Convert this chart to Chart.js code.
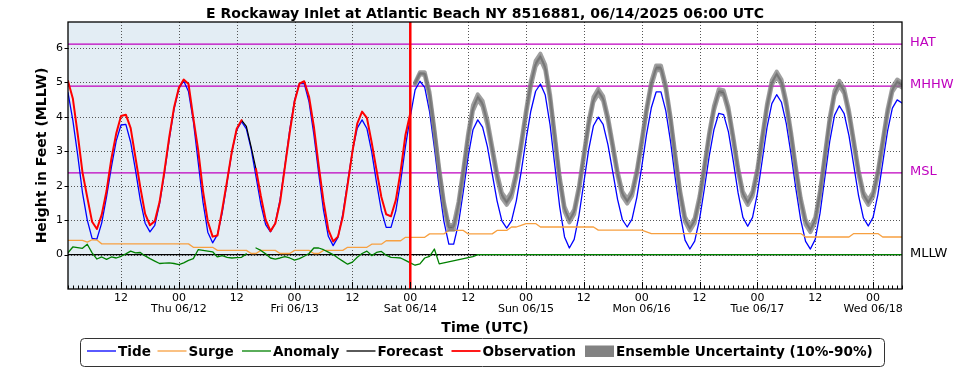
<!DOCTYPE html>
<html>
<head>
<meta charset="utf-8">
<title>E Rockaway Inlet water levels</title>
<script src="https://cdn.jsdelivr.net/npm/chart.js@4.4.1/dist/chart.umd.min.js"></script>
<style>
  html, body { margin: 0; padding: 0; background: #fff; }
  #wrap { width: 969px; height: 370px; }
</style>
</head>
<body>
<div id="wrap"><canvas id="chart" width="969" height="370"></canvas></div>
<script>
// hours are counted from Sat 06/14 00:00 UTC (the red line)
const xMin = -71;
const xMax = 102;
const nowHour = 0;
const xTickHours = [-60, -48, -36, -24, -12, 0, 12, 24, 36, 48, 60, 72, 84, 96];
const midnightHours = [-48, -24, 0, 24, 48, 72, 96];
const dayNames = ['Thu 06/12', 'Fri 06/13', 'Sat 06/14', 'Sun 06/15', 'Mon 06/16', 'Tue 06/17', 'Wed 06/18'];
const yTicks = [0, 1, 2, 3, 4, 5, 6];

const datumNames = ['HAT', 'MHHW', 'MSL', 'MLLW'];
const datumValues = [6.11, 4.89, 2.37, 0];
const datumColors = ['#bf00bf', '#bf00bf', '#bf00bf', '#000000'];

// hourly, -71 .. 102
const tideStart = -71;
const tide = [
  4.70, 3.90, 2.90, 1.80, 1.00, 0.47, 0.45, 0.92, 1.68, 2.54, 3.30, 3.76, 3.78, 3.26, 2.45, 1.58,
  0.91, 0.66, 0.85, 1.48, 2.36, 3.34, 4.22, 4.82, 5.04, 4.73, 3.87, 2.69, 1.52, 0.65, 0.34, 0.58,
  1.22, 2.10, 2.98, 3.62, 3.86, 3.65, 3.06, 2.26, 1.46, 0.87, 0.66, 0.91, 1.60, 2.58, 3.62, 4.48,
  4.96, 4.96, 4.43, 3.49, 2.36, 1.29, 0.53, 0.26, 0.50, 1.17, 2.09, 3.00, 3.67, 3.91, 3.66, 2.98,
  2.09, 1.28, 0.79, 0.79, 1.27, 2.12, 3.14, 4.00, 4.78, 5.03, 4.85, 4.15, 3.10, 1.95, 0.95, 0.30,
  0.30, 0.90, 1.83, 2.84, 3.62, 3.91, 3.70, 3.13, 2.34, 1.56, 0.98, 0.77, 0.98, 1.56, 2.40, 3.32,
  4.16, 4.74, 4.95, 4.63, 3.76, 2.57, 1.38, 0.51, 0.19, 0.44, 1.14, 2.09, 3.04, 3.74, 3.99, 3.78,
  3.19, 2.40, 1.60, 1.01, 0.80, 1.03, 1.66, 2.54, 3.48, 4.26, 4.72, 4.72, 4.18, 3.27, 2.18, 1.15,
  0.42, 0.16, 0.39, 1.02, 1.91, 2.85, 3.63, 4.10, 4.06, 3.56, 2.71, 1.79, 1.08, 0.82, 1.08, 1.77,
  2.73, 3.69, 4.38, 4.64, 4.42, 3.80, 2.90, 1.90, 1.00, 0.38, 0.16, 0.44, 1.20, 2.24, 3.28, 4.04,
  4.32, 4.09, 3.45, 2.58, 1.70, 1.06, 0.83, 1.08, 1.74, 2.66, 3.58, 4.25, 4.49, 4.40
];

// hourly, -71 .. 102
const surgeStart = -71;
const surge = [
  0.41, 0.41, 0.41, 0.41, 0.36, 0.43, 0.42,
  0.31, 0.31, 0.31, 0.31, 0.31, 0.31, 0.31, 0.31, 0.31, 0.31, 0.31, 0.31, 0.31, 0.31, 0.31, 0.31, 0.31, 0.31, 0.31,
  0.21, 0.21, 0.21, 0.21, 0.21,
  0.12, 0.12, 0.12, 0.12, 0.12, 0.12, 0.12,
  0.03, 0.03, 0.12, 0.12, 0.12, 0.12, 0.03, 0.03, 0.03, 0.12, 0.12, 0.12, 0.12, 0.03, 0.03,
  0.12, 0.12, 0.12, 0.12, 0.12, 0.21, 0.21, 0.21, 0.21, 0.21, 0.30, 0.30, 0.30,
  0.40, 0.40, 0.40, 0.40, 0.50, 0.50, 0.50, 0.50, 0.50, 0.60, 0.60, 0.60, 0.60,
  0.70, 0.70, 0.70, 0.70, 0.60, 0.60, 0.60, 0.60, 0.60, 0.60, 0.70, 0.70, 0.70,
  0.80, 0.80, 0.85, 0.90, 0.90, 0.90,
  0.80, 0.80, 0.80, 0.80, 0.80, 0.80, 0.80, 0.80, 0.80, 0.80, 0.80, 0.80,
  0.71, 0.71, 0.71, 0.71, 0.71, 0.71, 0.71, 0.71, 0.71, 0.71, 0.66,
  0.61, 0.61, 0.61, 0.61, 0.61, 0.61, 0.61, 0.61, 0.61, 0.61, 0.61, 0.61, 0.61, 0.61, 0.61, 0.61,
  0.61, 0.61, 0.61, 0.61, 0.61, 0.61, 0.61, 0.61, 0.61, 0.61, 0.61, 0.61, 0.61, 0.61, 0.61, 0.61,
  0.51, 0.51, 0.51, 0.51, 0.51, 0.51, 0.51, 0.51, 0.51, 0.51,
  0.61, 0.61, 0.61, 0.61, 0.61, 0.61, 0.51, 0.51, 0.51, 0.51, 0.51
];

// hourly, -71 .. 6 (null = missing), then resumes at 13
const anomalyStart = -71;
const anomaly = [
  0.05, 0.22, 0.20, 0.18, 0.30, 0.05, -0.13, -0.07, -0.14, -0.07, -0.10, -0.05, 0.02, 0.10, 0.05, 0.06,
  -0.04, -0.12, -0.19, -0.26, -0.25, -0.24, -0.26, -0.29, -0.24, -0.17, -0.12, 0.14, 0.12, 0.10, 0.08, -0.07,
  -0.03, -0.08, -0.10, -0.09, -0.08, 0.02, null, 0.19, 0.12, 0.02, -0.10, -0.13, -0.10, -0.06, -0.10, -0.16,
  -0.12, -0.05, 0.03, 0.19, 0.19, 0.14, 0.07, 0.00, -0.10, -0.19, -0.28, -0.22, -0.08, 0.03, 0.10, -0.03,
  0.06, 0.09, -0.02, -0.08, -0.09, -0.10, -0.17, -0.24, -0.31, -0.27, -0.10, -0.05, 0.16, -0.27
];
const anomalyLateStart = 13;
const anomalyLate = [
  -0.06, 0, 0, 0, 0, 0, 0, 0, 0, 0, 0, 0, 0, 0, 0, 0, 0, 0, 0, 0, 0, 0, 0, 0, 0, 0, 0, 0, 0, 0,
  0, 0, 0, 0, 0, 0, 0, 0, 0, 0, 0, 0, 0, 0, 0, 0, 0, 0, 0, 0, 0, 0, 0, 0, 0, 0, 0, 0, 0, 0,
  0, 0, 0, 0, 0, 0, 0, 0, 0, 0, 0, 0, 0, 0, 0, 0, 0, 0, 0, 0, 0, 0, 0, 0, 0, 0, 0, 0, 0, 0
];

// hourly, -71 .. 0
const obsStart = -71;
const observation = [
  5.04, 4.53, 3.51, 2.39, 1.66, 0.95, 0.74, 1.16, 1.85, 2.78, 3.51, 4.02, 4.06, 3.67, 2.81, 1.95,
  1.18, 0.85, 0.97, 1.53, 2.42, 3.41, 4.27, 4.84, 5.08, 4.95, 3.96, 3.04, 1.85, 0.96, 0.52, 0.55,
  1.31, 2.14, 3.00, 3.65, 3.90, null, null, 2.48, 1.70, 1.01, 0.68, 0.90, 1.53, 2.55, 3.55, 4.44,
  4.96, 5.03, 4.58, 3.71, 2.58, 1.55, 0.72, 0.38, 0.52, 1.10, 2.02, 2.99, 3.80, 4.15, 3.97, 3.25,
  2.45, 1.67, 1.17, 1.11, 1.58, 2.42, 3.47, 4.10
];

// forecast seen through the gap in the observations
const hindcastStart = -35;
const hindcast = [3.90, 3.72, 3.12, 2.48];

// hourly, 1 .. 102
const forecastStart = 1;
const forecast = [
  4.97, 5.26, 5.25, 4.65, 3.60, 2.45, 1.45, 0.78, 0.80, 1.45, 2.41, 3.44, 4.25, 4.57, 4.38, 3.83,
  3.06, 2.29, 1.72, 1.52, 1.74, 2.33, 3.18, 4.11, 4.96, 5.54, 5.75, 5.43, 4.57, 3.38, 2.19, 1.32,
  1.00, 1.24, 1.93, 2.87, 3.81, 4.50, 4.74, 4.53, 3.94, 3.15, 2.35, 1.76, 1.55, 1.77, 2.39, 3.26,
  4.19, 4.96, 5.42, 5.42, 4.86, 3.93, 2.82, 1.77, 1.02, 0.76, 0.99, 1.63, 2.52, 3.47, 4.25, 4.73,
  4.70, 4.21, 3.37, 2.46, 1.76, 1.51, 1.76, 2.43, 3.37, 4.31, 4.99, 5.24, 5.01, 4.38, 3.48, 2.47,
  1.57, 0.94, 0.72, 1.01, 1.79, 2.85, 3.91, 4.68, 4.97, 4.75, 4.12, 3.26, 2.38, 1.74, 1.51, 1.74,
  2.37, 3.26, 4.15, 4.79, 5.01, 4.92
];
const ens90 = [
  4.99, 5.29, 5.29, 4.71, 3.66, 2.51, 1.51, 0.84, 0.88, 1.53, 2.49, 3.52, 4.33, 4.65, 4.46, 3.91,
  3.14, 2.37, 1.80, 1.60, 1.82, 2.41, 3.26, 4.19, 5.04, 5.62, 5.83, 5.51, 4.65, 3.46, 2.26, 1.39,
  1.07, 1.31, 2.00, 2.94, 3.88, 4.57, 4.81, 4.60, 4.01, 3.22, 2.42, 1.83, 1.62, 1.84, 2.46, 3.33,
  4.26, 5.03, 5.49, 5.49, 4.93, 4.00, 2.89, 1.84, 1.09, 0.83, 1.06, 1.70, 2.59, 3.54, 4.32, 4.80,
  4.77, 4.28, 3.44, 2.53, 1.83, 1.58, 1.83, 2.50, 3.44, 4.38, 5.06, 5.31, 5.08, 4.45, 3.55, 2.54,
  1.64, 1.01, 0.79, 1.08, 1.86, 2.92, 3.98, 4.75, 5.04, 4.82, 4.19, 3.33, 2.45, 1.81, 1.58, 1.81,
  2.44, 3.33, 4.22, 4.86, 5.08, 4.99
];
const ens10 = [
  4.95, 5.23, 5.21, 4.59, 3.54, 2.39, 1.39, 0.72, 0.72, 1.37, 2.33, 3.36, 4.17, 4.49, 4.30, 3.75,
  2.98, 2.21, 1.64, 1.44, 1.66, 2.25, 3.10, 4.03, 4.88, 5.46, 5.67, 5.35, 4.49, 3.30, 2.12, 1.25,
  0.93, 1.17, 1.86, 2.80, 3.74, 4.43, 4.67, 4.46, 3.87, 3.08, 2.28, 1.69, 1.48, 1.70, 2.32, 3.19,
  4.12, 4.89, 5.35, 5.35, 4.79, 3.86, 2.75, 1.70, 0.95, 0.69, 0.92, 1.56, 2.45, 3.40, 4.18, 4.66,
  4.63, 4.14, 3.30, 2.39, 1.69, 1.44, 1.69, 2.36, 3.30, 4.24, 4.92, 5.17, 4.94, 4.31, 3.41, 2.40,
  1.50, 0.87, 0.65, 0.94, 1.72, 2.78, 3.84, 4.61, 4.90, 4.68, 4.05, 3.19, 2.31, 1.67, 1.44, 1.67,
  2.30, 3.19, 4.08, 4.72, 4.94, 4.85
];

const legendNames = ['Tide', 'Surge', 'Anomaly', 'Forecast', 'Observation', 'Ensemble Uncertainty (10%-90%)'];

const COLORS = {
  tide: '#0000ff',
  surge: '#f7a040',
  anomaly: '#008000',
  forecast: '#000000',
  obs: '#ff0000',
  band: 'rgba(122,122,122,0.72)',
  swatch: '#828282',
  past: '#e3edf4'
};
const FONT = '"DejaVu Sans", "Liberation Sans", sans-serif';

const toPoints = (start, values) => values.map((v, i) => ({ x: start + i, y: v }));

const overlay = {
  id: 'overlay',
  beforeDraw(chart) {
    const { ctx, chartArea: a, scales: { x } } = chart;
    ctx.save();
    ctx.fillStyle = '#fff';
    ctx.fillRect(0, 0, chart.width, chart.height);
    ctx.fillStyle = COLORS.past;
    ctx.fillRect(a.left, a.top, x.getPixelForValue(nowHour) - a.left, a.bottom - a.top);
    ctx.restore();
  },
  beforeDatasetsDraw(chart) {
    const { ctx, chartArea: a, scales: { x, y } } = chart;
    ctx.save();
    // dotted grid
    ctx.strokeStyle = '#555';
    ctx.lineWidth = 1;
    ctx.setLineDash([1, 2]);
    xTickHours.forEach((h) => {
      const px = Math.round(x.getPixelForValue(h)) + 0.5;
      ctx.beginPath();
      ctx.moveTo(px, a.top);
      ctx.lineTo(px, a.bottom);
      ctx.stroke();
    });
    yTicks.forEach((v) => {
      const py = Math.round(y.getPixelForValue(v)) + 0.5;
      ctx.beginPath();
      ctx.moveTo(a.left, py);
      ctx.lineTo(a.right, py);
      ctx.stroke();
    });
    ctx.setLineDash([]);
    // datum lines
    ctx.lineWidth = 1.3;
    datumValues.forEach((v, i) => {
      const py = y.getPixelForValue(v);
      ctx.strokeStyle = datumColors[i];
      ctx.beginPath();
      ctx.moveTo(a.left, py);
      ctx.lineTo(a.right, py);
      ctx.stroke();
    });
    ctx.restore();
  },
  afterDatasetsDraw(chart) {
    const { ctx, chartArea: a, scales: { x, y } } = chart;
    ctx.save();
    // now line
    const nx = x.getPixelForValue(nowHour);
    ctx.strokeStyle = COLORS.obs;
    ctx.lineWidth = 2.5;
    ctx.beginPath();
    ctx.moveTo(nx, a.top);
    ctx.lineTo(nx, a.bottom);
    ctx.stroke();

    // inward hour ticks on the time axis
    ctx.strokeStyle = '#000';
    ctx.lineWidth = 1;
    for (let h = xMin; h <= xMax; h++) {
      const px = Math.round(x.getPixelForValue(h)) + 0.5;
      const len = xTickHours.includes(h) ? 7 : 3.5;
      ctx.beginPath();
      ctx.moveTo(px, a.bottom);
      ctx.lineTo(px, a.bottom - len);
      ctx.stroke();
    }
    yTicks.forEach((v) => {
      const py = Math.round(y.getPixelForValue(v)) + 0.5;
      ctx.beginPath();
      ctx.moveTo(a.left, py);
      ctx.lineTo(a.left - 3.5, py);
      ctx.stroke();
    });

    // frame
    ctx.lineWidth = 1.3;
    ctx.strokeRect(a.left, a.top, a.right - a.left, a.bottom - a.top);
    ctx.restore();
  },
  afterDraw(chart) {
    const { ctx, chartArea: a, scales: { y } } = chart;
    const cx = (a.left + a.right) / 2;
    ctx.save();
    ctx.fillStyle = '#000';
    ctx.textAlign = 'center';
    ctx.textBaseline = 'alphabetic';
    ctx.font = 'bold 14px ' + FONT;
    ctx.fillText('E Rockaway Inlet at Atlantic Beach NY 8516881, 06/14/2025 06:00 UTC', cx, 18);
    ctx.fillText('Time (UTC)', cx, 332);

    ctx.save();
    ctx.translate(46, (a.top + a.bottom) / 2);
    ctx.rotate(-Math.PI / 2);
    ctx.fillText('Height in Feet (MLLW)', 0, 0);
    ctx.restore();

    // datum labels on the right
    ctx.textAlign = 'left';
    ctx.textBaseline = 'middle';
    ctx.font = '13px ' + FONT;
    datumNames.forEach((name, i) => {
      ctx.fillStyle = datumColors[i];
      ctx.fillText(name, a.right + 8, y.getPixelForValue(datumValues[i]) - 1);
    });

    // legend
    const swatches = [
      { color: COLORS.tide, width: 1.3 },
      { color: COLORS.surge, width: 1.3 },
      { color: COLORS.anomaly, width: 1.3 },
      { color: COLORS.forecast, width: 1.3 },
      { color: COLORS.obs, width: 1.8 },
      { color: COLORS.swatch, box: true }
    ];
    const itemX = [87, 157.5, 242, 346.5, 451.5, 585];
    const ly = 351;
    ctx.font = 'bold 13.6px ' + FONT;
    ctx.textBaseline = 'alphabetic';
    legendNames.forEach((name, i) => {
      const s = swatches[i];
      const lx = itemX[i];
      if (s.box) {
        ctx.fillStyle = s.color;
        ctx.fillRect(lx, ly - 5.5, 29, 11.5);
      } else {
        ctx.strokeStyle = s.color;
        ctx.lineWidth = s.width;
        ctx.beginPath();
        ctx.moveTo(lx, ly);
        ctx.lineTo(lx + 29, ly);
        ctx.stroke();
      }
      ctx.fillStyle = '#000';
      ctx.fillText(name, lx + 31, ly + 5);
    });
    ctx.strokeStyle = '#333';
    ctx.lineWidth = 1;
    ctx.beginPath();
    ctx.roundRect(80.5, 338.5, 804, 28, 4);
    ctx.stroke();
    ctx.restore();
  }
};

new Chart(document.getElementById('chart'), {
  type: 'line',
  data: {
    // the first dataset is painted last (on top)
    datasets: [
      { label: 'Observation', data: toPoints(obsStart, observation), borderColor: COLORS.obs, borderWidth: 2 },
      {
        label: 'Ensemble 90%',
        data: toPoints(forecastStart, ens90),
        borderColor: COLORS.band,
        backgroundColor: COLORS.band,
        borderWidth: 4,
        fill: '+1'
      },
      { label: 'Ensemble 10%', data: toPoints(forecastStart, ens10), borderColor: COLORS.band, borderWidth: 4 },
      {
        label: 'Forecast',
        data: [...toPoints(hindcastStart, hindcast), { x: -31, y: null }, ...toPoints(forecastStart, forecast)],
        borderColor: COLORS.forecast,
        borderWidth: 1.2
      },
      {
        label: 'Anomaly',
        data: [...toPoints(anomalyStart, anomaly), ...toPoints(anomalyLateStart, anomalyLate)],
        borderColor: COLORS.anomaly,
        borderWidth: 1.3
      },
      { label: 'Surge', data: toPoints(surgeStart, surge), borderColor: COLORS.surge, borderWidth: 1.3 },
      { label: 'Tide', data: toPoints(tideStart, tide), borderColor: COLORS.tide, borderWidth: 1.3 }
    ]
  },
  options: {
    responsive: false,
    animation: false,
    devicePixelRatio: 1,
    layout: { padding: { top: 22, right: 67, bottom: 0, left: 0 } },
    elements: {
      point: { radius: 0, hoverRadius: 0 },
      line: { tension: 0, borderJoinStyle: 'round', borderCapStyle: 'round' }
    },
    plugins: {
      legend: { display: false },
      title: { display: false },
      tooltip: { enabled: false }
    },
    scales: {
      x: {
        type: 'linear',
        min: xMin,
        max: xMax,
        afterFit: (s) => { s.height = 81; },
        afterBuildTicks: (s) => { s.ticks = xTickHours.map((v) => ({ value: v })); },
        grid: { display: false, drawTicks: false },
        border: { display: false },
        ticks: {
          autoSkip: false,
          maxRotation: 0,
          minRotation: 0,
          padding: 3,
          color: '#000',
          font: { family: FONT, size: 11, lineHeight: 1.05 },
          callback: (v) => {
            const k = midnightHours.indexOf(v);
            return k >= 0 ? ['00', dayNames[k]] : '12';
          }
        }
      },
      y: {
        min: -1,
        max: 6.75,
        afterFit: (s) => { s.width = 68; },
        afterBuildTicks: (s) => { s.ticks = yTicks.map((v) => ({ value: v })); },
        grid: { display: false, drawTicks: false },
        border: { display: false },
        ticks: {
          padding: 5,
          color: '#000',
          font: { family: FONT, size: 11 },
          callback: (v) => String(v)
        }
      }
    }
  },
  plugins: [overlay]
});
</script>
</body>
</html>
